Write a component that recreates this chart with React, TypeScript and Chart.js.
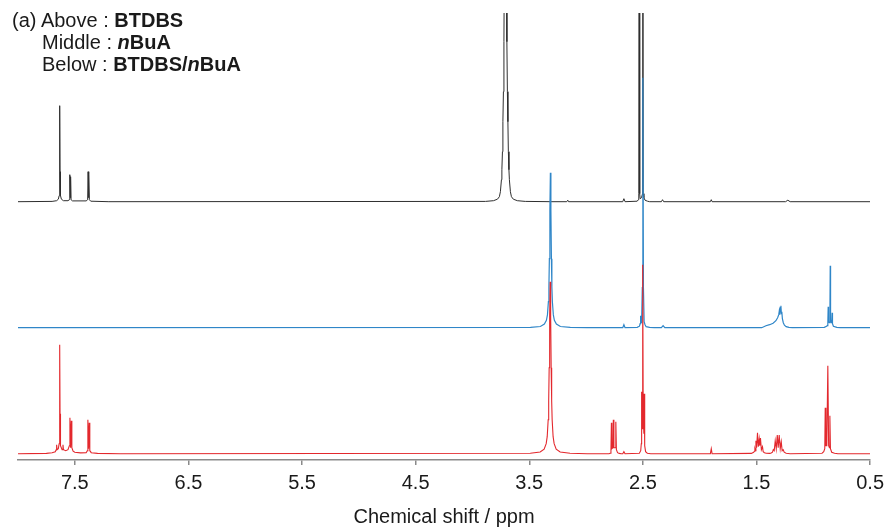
import React, { useEffect, useRef } from "react";
import { Chart, registerables } from "chart.js";

Chart.register(...registerables);

// x-axis (chemical shift, ppm), reversed: 8.0 at left, 0.5 at right
const X_MIN = 0.5;
const X_MAX = 8.0;
const X_TICKS = [7.5, 6.5, 5.5, 4.5, 3.5, 2.5, 1.5, 0.5];
const X_TITLE = "Chemical shift / ppm";

// Intensities (arbitrary units, relative to each trace's own baseline), [ppm, intensity]
const ABOVE_BTDBS: [number, number][] = [
  [8.0, 0], [7.7, 0.3], [7.66, 1], [7.645, 2.5], [7.638, 6], [7.634, 30], [7.632, 96],
  [7.63, 30], [7.626, 6], [7.618, 2.5], [7.6, 1], [7.56, 1], [7.548, 2], [7.544, 27],
  [7.54, 4], [7.537, 25], [7.533, 2], [7.52, 0.8], [7.4, 0.8], [7.387, 2], [7.383, 30],
  [7.379, 4], [7.376, 27], [7.372, 2], [7.36, 0.5], [7.2, 0],
  [3.885, 0.3], [3.815, 1], [3.78, 2.5], [3.763, 5], [3.754, 10], [3.745, 22], [3.741, 32],
  [3.736, 50], [3.732, 80], [3.7275, 110], [3.723, 160], [3.719, 250], [3.7144, 400],
  [3.71, 500], [3.7056, 400], [3.701, 250], [3.697, 160], [3.6925, 110], [3.688, 80],
  [3.684, 50], [3.679, 32], [3.675, 22], [3.666, 10], [3.657, 5], [3.64, 2.5], [3.605, 1],
  [3.535, 0.3], [3.3, 0],
  [3.17, 0], [3.161, 1.5], [3.154, 0],
  [2.677, 0], [2.667, 3], [2.657, 0],
  [2.55, 0.5], [2.54, 2], [2.536, 8], [2.532, 600], [2.528, 8], [2.524, 3], [2.512, 4],
  [2.503, 8], [2.5005, 900], [2.498, 8], [2.491, 4], [2.481, 1.5], [2.46, 0.5], [2.44, 0],
  [2.337, 0], [2.327, 2], [2.317, 0],
  [1.906, 0], [1.898, 2], [1.891, 0],
  [1.244, 0], [1.224, 1.5], [1.204, 0],
  [0.5, 0],
];

const MIDDLE_NBUA: [number, number][] = [
  [8.0, 0], [3.489, 0.3], [3.402, 1.2], [3.367, 3.6], [3.349, 7.4], [3.34, 12.8],
  [3.3315, 26], [3.327, 41], [3.323, 69], [3.3184, 118], [3.314, 155], [3.3096, 118],
  [3.305, 69], [3.301, 41], [3.2965, 26], [3.288, 12.8], [3.279, 7.4], [3.261, 3.6],
  [3.226, 1.2], [3.139, 0.3], [2.99, 0],
  [2.677, 0], [2.667, 3], [2.657, 0],
  [2.55, 0.3], [2.53, 1.5], [2.524, 4], [2.52, 12], [2.516, 5], [2.511, 6], [2.505, 40],
  [2.5, 250], [2.495, 40], [2.489, 6], [2.481, 3], [2.471, 1], [2.441, 0.3], [2.4, 0],
  [2.337, 0], [2.322, 2], [2.307, 0],
  [1.454, 0], [1.417, 2], [1.384, 3], [1.354, 4.5], [1.329, 7], [1.314, 10], [1.304, 13],
  [1.299, 17], [1.295, 13], [1.289, 20], [1.285, 22], [1.281, 14], [1.277, 16],
  [1.272, 9], [1.264, 5], [1.254, 2.5], [1.239, 1], [1.214, 0.3], [1.184, 0],
  [0.903, 0.3], [0.883, 1.5], [0.878, 2], [0.872, 5], [0.869, 21], [0.866, 6], [0.86, 5],
  [0.854, 8], [0.851, 62], [0.848, 8], [0.842, 5], [0.837, 6], [0.834, 15], [0.831, 4],
  [0.823, 1.5], [0.793, 0.3], [0.763, 0],
  [0.5, 0],
];

const BELOW_MIX: [number, number][] = [
  [8.0, 0], [7.75, 0.3], [7.7, 1], [7.672, 2], [7.664, 4], [7.66, 9], [7.656, 4],
  [7.645, 5], [7.638, 10], [7.634, 40], [7.632, 109], [7.63, 40], [7.626, 8], [7.612, 4],
  [7.604, 9], [7.6, 4], [7.58, 3], [7.56, 4], [7.548, 8], [7.543, 36], [7.537, 6],
  [7.531, 33], [7.526, 6], [7.515, 2.5], [7.5, 1.5], [7.45, 0.8], [7.4, 1], [7.39, 3],
  [7.385, 34], [7.379, 5], [7.373, 31], [7.368, 3], [7.355, 1], [7.3, 0.3], [7.1, 0],
  [3.491, 0.4], [3.404, 1.7], [3.369, 4.6], [3.351, 10], [3.342, 17], [3.3335, 34],
  [3.329, 53], [3.3248, 86], [3.3204, 138], [3.316, 172], [3.3116, 138], [3.3072, 86],
  [3.3028, 53], [3.2985, 34], [3.29, 17], [3.281, 10], [3.263, 4.6], [3.228, 1.7],
  [3.141, 0.4], [2.99, 0],
  [2.798, 0], [2.788, 0.5], [2.781, 3], [2.777, 31], [2.773, 5], [2.764, 6], [2.76, 34],
  [2.755, 6], [2.743, 6], [2.738, 32], [2.733, 4], [2.723, 1], [2.708, 0.3], [2.69, 0],
  [2.677, 0], [2.667, 2], [2.657, 0],
  [2.531, 0.5], [2.519, 3], [2.514, 10], [2.511, 62], [2.507, 25], [2.503, 40],
  [2.5, 189], [2.497, 40], [2.491, 20], [2.488, 60], [2.484, 8], [2.476, 2], [2.461, 0.5],
  [2.43, 0],
  [1.906, 0], [1.898, 5], [1.891, 0],
  [1.545, 0.3], [1.525, 1.5], [1.517, 2.5], [1.514, 4.7], [1.51, 3], [1.505, 13],
  [1.499, 6], [1.491, 21], [1.484, 7], [1.476, 14.7], [1.471, 8], [1.465, 15.7],
  [1.457, 4], [1.447, 7], [1.441, 2], [1.43, 1], [1.415, 0.5], [1.385, 0.3],
  [1.374, 0.5], [1.359, 1.5], [1.352, 4], [1.344, 3], [1.335, 13], [1.326, 5],
  [1.317, 18.7], [1.309, 6], [1.3, 18.7], [1.291, 5], [1.282, 12], [1.274, 3],
  [1.265, 4], [1.256, 1.5], [1.239, 0.5], [1.204, 0],
  [0.923, 0.5], [0.908, 2], [0.899, 5], [0.895, 46], [0.889, 8], [0.881, 8], [0.872, 88],
  [0.865, 8], [0.858, 6], [0.854, 38], [0.849, 5], [0.838, 1.5], [0.813, 0.5], [0.783, 0],
  [0.5, 0],
];

const SERIES_NAMES = ["BTDBS/nBuA", "nBuA", "BTDBS"];

// Vertical scale windows for each stacked trace (baseline at 0)
const Y_RED = { min: -6.3, max: 440.7 };
const Y_BLUE = { min: -132.3, max: 314.7 };
const Y_BLACK = { min: -258.3, max: 188.7 };

const FONT = "'Liberation Sans', Arial, Helvetica, sans-serif";

export default function App() {
  const ref = useRef<HTMLCanvasElement | null>(null);

  useEffect(() => {
    document.body.style.margin = "0";
    const canvas = ref.current;
    if (!canvas) return;
    const toXY = (arr: [number, number][]) => arr.map(([x, y]) => ({ x, y }));
    const chart = new Chart(canvas, {
      type: "line",
      data: {
        datasets: [
          {
            label: SERIES_NAMES[0],
            data: toXY(BELOW_MIX),
            borderColor: "#e3282d",
            borderWidth: 1.1,
            pointRadius: 0,
            tension: 0,
            yAxisID: "yRed",
            order: 0,
          },
          {
            label: SERIES_NAMES[1],
            data: toXY(MIDDLE_NBUA),
            borderColor: "#2f86c8",
            borderWidth: 1.2,
            pointRadius: 0,
            tension: 0,
            yAxisID: "yBlue",
            order: 1,
          },
          {
            label: SERIES_NAMES[2],
            data: toXY(ABOVE_BTDBS),
            borderColor: "#2e2e2e",
            borderWidth: 1.0,
            pointRadius: 0,
            tension: 0,
            yAxisID: "yBlack",
            order: 2,
          },
        ],
      },
      options: {
        animation: false,
        responsive: false,
        layout: { padding: { left: 18, right: 19, top: 13, bottom: 0 } },
        plugins: {
          legend: { display: false },
          tooltip: { enabled: false },
        },
        scales: {
          x: {
            type: "linear",
            reverse: true,
            min: X_MIN,
            max: X_MAX,
            afterBuildTicks: (scale: any) => {
              scale.ticks = X_TICKS.map((v) => ({ value: v }));
            },
            grid: {
              display: true,
              drawOnChartArea: false,
              drawTicks: true,
              tickLength: 5,
              color: "#8a8a8a",
              lineWidth: 1.5,
            },
            border: { display: true, color: "#8a8a8a", width: 1.5 },
            ticks: {
              padding: 6,
              color: "#1a1a1a",
              font: { family: FONT, size: 20 },
              maxRotation: 0,
              callback: (v: any) => Number(v).toFixed(1),
            },
            title: {
              display: true,
              text: X_TITLE,
              color: "#1a1a1a",
              font: { family: FONT, size: 20 },
              padding: { top: 4, bottom: 0 },
            },
          },
          yRed: { type: "linear", display: false, min: Y_RED.min, max: Y_RED.max },
          yBlue: { type: "linear", display: false, min: Y_BLUE.min, max: Y_BLUE.max },
          yBlack: { type: "linear", display: false, min: Y_BLACK.min, max: Y_BLACK.max },
        },
      },
    });
    return () => chart.destroy();
  }, []);

  const textStyle: React.CSSProperties = {
    position: "absolute",
    fontFamily: FONT,
    fontSize: 20,
    lineHeight: "22px",
    color: "#1a1a1a",
    whiteSpace: "nowrap",
  };

  return (
    <div style={{ position: "relative", width: 890, height: 529, background: "#fff" }}>
      <canvas ref={ref} width={890} height={529} style={{ width: 890, height: 529, display: "block" }} />
      <div style={{ ...textStyle, left: 12, top: 9 }}>
        (a) Above : <b>BTDBS</b>
      </div>
      <div style={{ ...textStyle, left: 42, top: 31 }}>
        Middle : <b><i>n</i>BuA</b>
      </div>
      <div style={{ ...textStyle, left: 42, top: 53 }}>
        Below : <b>BTDBS/<i>n</i>BuA</b>
      </div>
    </div>
  );
}
